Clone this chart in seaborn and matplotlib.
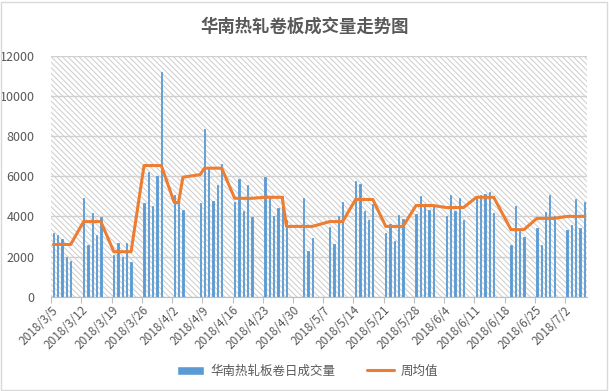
import numpy as np
import pandas as pd
import matplotlib
matplotlib.use('Agg')
import matplotlib.pyplot as plt
import seaborn as sns
from matplotlib.patches import Rectangle, Patch
from matplotlib.lines import Line2D

# 交易日（含4/8、4/28调休日）
trade_dates = [
    '2018/3/5', '2018/3/6', '2018/3/7', '2018/3/8', '2018/3/9',
    '2018/3/12', '2018/3/13', '2018/3/14', '2018/3/15', '2018/3/16',
    '2018/3/19', '2018/3/20', '2018/3/21', '2018/3/22', '2018/3/23',
    '2018/3/26', '2018/3/27', '2018/3/28', '2018/3/29', '2018/3/30',
    '2018/4/2', '2018/4/3', '2018/4/4',
    '2018/4/8', '2018/4/9', '2018/4/10', '2018/4/11', '2018/4/12', '2018/4/13',
    '2018/4/16', '2018/4/17', '2018/4/18', '2018/4/19', '2018/4/20',
    '2018/4/23', '2018/4/24', '2018/4/25', '2018/4/26', '2018/4/27', '2018/4/28',
    '2018/5/2', '2018/5/3', '2018/5/4',
    '2018/5/8', '2018/5/9', '2018/5/10', '2018/5/11',
    '2018/5/14', '2018/5/15', '2018/5/16', '2018/5/17', '2018/5/18',
    '2018/5/21', '2018/5/22', '2018/5/23', '2018/5/24', '2018/5/25',
    '2018/5/28', '2018/5/29', '2018/5/30', '2018/5/31', '2018/6/1',
    '2018/6/4', '2018/6/5', '2018/6/6', '2018/6/7', '2018/6/8',
    '2018/6/11', '2018/6/12', '2018/6/13', '2018/6/14', '2018/6/15',
    '2018/6/19', '2018/6/20', '2018/6/21', '2018/6/22',
    '2018/6/25', '2018/6/26', '2018/6/27', '2018/6/28', '2018/6/29',
    '2018/7/2', '2018/7/3', '2018/7/4', '2018/7/5', '2018/7/6',
]

daily_volume = [
    3180, 3080, 2880, 1980, 1780,
    4930, 2580, 4180, 3080, 3980,
    2080, 2680, 1980, 2680, 1750,
    4680, 6220, 4530, 6030, 11170,
    5080, 4680, 4330,
    4680, 8330, 6470, 4780, 5580, 6630,
    4720, 5880, 4280, 5580, 3980,
    5980, 5030, 4030, 4430, 5030, 3830,
    4930, 2280, 2930,
    3480, 2630, 4030, 4730,
    5780, 5630, 4280, 3830, 4630,
    3150, 3630, 2780, 4080, 3880,
    4130, 5000, 4630, 4330, 4500,
    4030, 5080, 4280, 4930, 3830,
    5030, 5080, 5130, 5230, 4180,
    2580, 4530, 3280, 2980,
    3430, 2580, 4230, 5080, 4030,
    3330, 3580, 4880, 3430, 4730,
]

weekly_avg = [
    2600, 2600, 2600, 2600, 2600,
    3740, 3740, 3740, 3740, 3740,
    2240, 2240, 2240, 2240, 2240,
    6530, 6530, 6530, 6530, 6530,
    4690, 4690, 5950,
    6080, 6400, 6400, 6400, 6400, 6400,
    4900, 4900, 4900, 4900, 4900,
    4950, 4950, 4950, 4950, 4950, 3500,
    3500, 3500, 3500,
    3740, 3740, 3740, 3740,
    4840, 4840, 4840, 4840, 4840,
    3500, 3500, 3500, 3500, 3500,
    4540, 4540, 4540, 4540, 4540,
    4440, 4440, 4440, 4440, 4440,
    4950, 4950, 4950, 4950, 4950,
    3340, 3340, 3340, 3340,
    3900, 3900, 3900, 3900, 3900,
    4000, 4000, 4000, 4000, 4000,
]

tick_labels = ['2018/3/5', '2018/3/12', '2018/3/19', '2018/3/26', '2018/4/2',
               '2018/4/9', '2018/4/16', '2018/4/23', '2018/4/30', '2018/5/7',
               '2018/5/14', '2018/5/21', '2018/5/28', '2018/6/4', '2018/6/11',
               '2018/6/18', '2018/6/25', '2018/7/2']

start = pd.Timestamp('2018-03-05')
end = pd.Timestamp('2018-07-06')
dates = pd.to_datetime(trade_dates, format='%Y/%m/%d')
df = pd.DataFrame({'day': (dates - start).days,
                   'volume': daily_volume,
                   'weekly': weekly_avg})

sns.set_theme(style='white')
plt.rcParams['font.family'] = ['Noto Sans CJK SC', 'DejaVu Sans']
plt.rcParams['hatch.linewidth'] = 0.7

grey = '#595959'
blue = '#5B9BD5'
orange = '#ED7D31'

fig = plt.figure(figsize=(6.09, 3.91), dpi=100)
ax = fig.add_axes([0.0841, 0.2412, 0.8790, 0.6163])

# 斜线底纹
ax.add_patch(Rectangle((0, 0), 1, 1, transform=ax.transAxes, facecolor='white',
                       edgecolor='#cccccc', hatch='\\\\\\\\\\\\', lw=0, zorder=0))

sns.barplot(data=df, x='day', y='volume', native_scale=True, width=0.3,
            color=blue, saturation=1, errorbar=None, ax=ax, zorder=2,
            edgecolor=blue, linewidth=0.6)
sns.lineplot(data=df, x='day', y='weekly', color=orange, lw=2.2, ax=ax, zorder=3)

n_days = (end - start).days + 1
ax.set_xlim(-0.5, n_days - 0.5)
ax.set_ylim(0, 12000)
ax.set_yticks(range(0, 12001, 2000))
ax.set_xticks(np.arange(len(tick_labels)) * 7 - 0.5)
ax.set_xticklabels(tick_labels)
ax.set_xlabel('')
ax.set_ylabel('')

ax.set_axisbelow(True)
ax.yaxis.grid(True, color='#d0d0d0', lw=1)
ax.xaxis.grid(False)
ax.spines[['top', 'right', 'left']].set_visible(False)
ax.spines['bottom'].set_color('#bfbfbf')
ax.spines['bottom'].set_linewidth(0.8)
ax.tick_params(axis='x', bottom=True, length=4, width=0.8, color='#bfbfbf',
               labelsize=8.5, labelcolor=grey, pad=1)
ax.tick_params(axis='y', left=False, labelsize=9, labelcolor=grey, pad=6)
plt.setp(ax.get_xticklabels(), rotation=45, ha='right', rotation_mode='anchor')

fig.text(0.5, 1 - 27 / 391, '华南热轧卷板成交量走势图', ha='center', va='center',
         fontsize=12.5, weight='bold', color=grey)

fig.legend(handles=[Patch(facecolor=blue), Line2D([], [], color=orange, lw=2.2)],
           labels=['华南热轧板卷日成交量', '周均值'], loc='center',
           bbox_to_anchor=(0.505, 0.051), ncol=2, frameon=False, fontsize=9,
           labelcolor=grey, handlelength=2.2, columnspacing=2.5, handletextpad=0.5)

fig.add_artist(Rectangle((0.5 / 609, 1.5 / 391), 606 / 609, 388 / 391,
                         transform=fig.transFigure, fill=False,
                         edgecolor='#d9d9d9', lw=1))

fig.savefig('out.png', dpi=100)
